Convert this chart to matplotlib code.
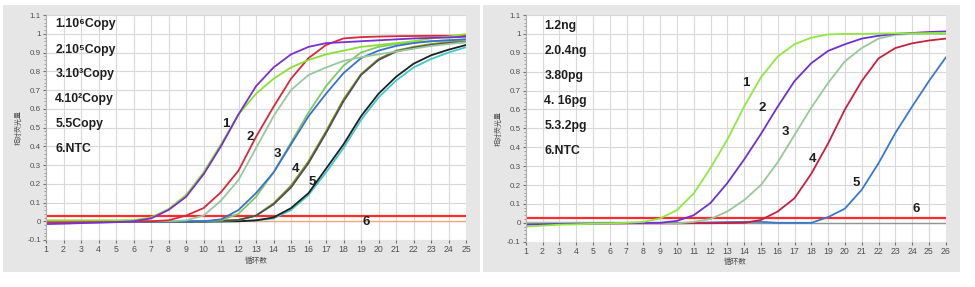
import matplotlib
matplotlib.use("Agg")
import matplotlib.pyplot as plt
from matplotlib.patches import Rectangle
from matplotlib.ticker import MultipleLocator

# ---------------- data: left panel (copies) ----------------
cyc_left = list(range(1, 26))
L1_purple = [-0.015, -0.013, -0.01, -0.008, -0.005, 0.0, 0.015, 0.06, 0.13, 0.25, 0.40, 0.57, 0.72, 0.82, 0.89, 0.93, 0.95, 0.955, 0.96, 0.965, 0.97, 0.975, 0.978, 0.98, 0.984]
L1_lime = [0.005, 0.005, 0.005, 0.005, 0.005, 0.006, 0.02, 0.065, 0.14, 0.26, 0.41, 0.57, 0.68, 0.76, 0.82, 0.86, 0.89, 0.91, 0.93, 0.94, 0.95, 0.96, 0.975, 0.985, 0.998]
L2_red = [-0.005, -0.005, -0.004, -0.003, -0.002, -0.001, 0.0, 0.005, 0.03, 0.07, 0.155, 0.27, 0.45, 0.61, 0.76, 0.87, 0.94, 0.975, 0.982, 0.985, 0.987, 0.988, 0.989, 0.989, 0.99]
L2_lgreen = [0.0, 0.0, 0.0, 0.0, 0.0, 0.0, 0.0, 0.0, 0.005, 0.03, 0.11, 0.22, 0.39, 0.56, 0.70, 0.78, 0.82, 0.855, 0.875, 0.89, 0.905, 0.92, 0.935, 0.945, 0.955]
L3_blue = [-0.003, -0.003, -0.003, -0.003, -0.003, -0.003, -0.002, -0.002, -0.001, 0.0, 0.01, 0.06, 0.15, 0.26, 0.41, 0.56, 0.68, 0.79, 0.87, 0.91, 0.935, 0.95, 0.96, 0.965, 0.97]
L3_green = [0.0, 0.0, 0.0, 0.0, 0.0, 0.0, 0.0, 0.0, 0.0, 0.0, 0.005, 0.04, 0.13, 0.26, 0.42, 0.58, 0.72, 0.83, 0.90, 0.93, 0.945, 0.955, 0.96, 0.965, 0.97]
L4_dark = [-0.003, -0.003, -0.003, -0.003, -0.003, -0.003, -0.003, -0.002, -0.002, 0.0, 0.003, 0.007, 0.03, 0.09, 0.18, 0.31, 0.47, 0.64, 0.78, 0.86, 0.905, 0.925, 0.94, 0.95, 0.955]
L4_olive = [-0.002, -0.002, -0.002, -0.002, -0.002, -0.002, -0.002, -0.002, -0.001, 0.0, 0.002, 0.006, 0.03, 0.095, 0.19, 0.32, 0.48, 0.65, 0.785, 0.865, 0.91, 0.93, 0.945, 0.955, 0.96]
L5_black = [-0.004, -0.004, -0.004, -0.004, -0.004, -0.004, -0.003, -0.003, -0.003, -0.002, -0.001, 0.0, 0.005, 0.02, 0.07, 0.15, 0.28, 0.41, 0.56, 0.68, 0.77, 0.84, 0.885, 0.915, 0.94]
L5_cyan = [-0.004, -0.004, -0.004, -0.004, -0.004, -0.004, -0.004, -0.003, -0.003, -0.002, -0.001, 0.0, 0.004, 0.015, 0.06, 0.14, 0.26, 0.39, 0.54, 0.66, 0.75, 0.82, 0.865, 0.90, 0.928]
L6_ntc = [0.0] * 25
thr_left = 0.028

legend_left = ["1.10⁶Copy", "2.10⁵Copy", "3.10³Copy", "4.10²Copy", "5.5Copy", "6.NTC"]
labels_left = ["1", "2", "3", "4", "5", "6"]
labx_left = [11.25, 12.65, 14.2, 15.27, 16.2, 19.3]
laby_left = [0.52, 0.45, 0.36, 0.28, 0.21, -0.005]

# ---------------- data: right panel (mass) ----------------
cyc_right = list(range(1, 27))
R1_lime = [-0.02, -0.015, -0.01, -0.008, -0.005, -0.003, 0.0, 0.005, 0.023, 0.067, 0.155, 0.29, 0.44, 0.615, 0.77, 0.88, 0.945, 0.98, 0.997, 1.0, 1.0, 1.002, 1.003, 1.003, 1.004, 1.005]
R2_purple = [-0.01, -0.008, -0.006, -0.005, -0.004, -0.003, -0.002, -0.001, 0.0, 0.01, 0.04, 0.105, 0.21, 0.335, 0.47, 0.615, 0.75, 0.845, 0.91, 0.945, 0.975, 0.99, 1.0, 1.005, 1.01, 1.013]
R3_lgreen = [0.0, 0.0, 0.0, 0.0, 0.0, 0.0, 0.0, 0.0, 0.0, -0.003, 0.005, 0.02, 0.06, 0.12, 0.20, 0.32, 0.465, 0.61, 0.74, 0.855, 0.925, 0.975, 0.995, 1.0, 1.0, 1.0]
R4_crimson = [-0.003, -0.003, -0.003, -0.003, -0.003, -0.003, -0.003, -0.003, -0.003, -0.003, -0.002, -0.002, -0.001, 0.0, 0.015, 0.06, 0.13, 0.26, 0.42, 0.60, 0.75, 0.87, 0.925, 0.95, 0.965, 0.975]
R5_blue = [0.0, 0.0, 0.0, 0.0, 0.0, 0.0, 0.0, 0.0, 0.0, 0.0, 0.0, 0.002, 0.004, 0.005, 0.005, 0.0, 0.0, 0.0, 0.03, 0.075, 0.175, 0.315, 0.475, 0.615, 0.75, 0.875]
R6_ntc = [0.0] * 26
thr_right = 0.028

legend_right = ["1.2ng", "2.0.4ng", "3.80pg", "4. 16pg", "5.3.2pg", "6.NTC"]
labels_right = ["1", "2", "3", "4", "5", "6"]
labx_right = [14.1, 15.05, 16.45, 18.1, 20.7, 24.25]
laby_right = [0.74, 0.61, 0.48, 0.34, 0.21, 0.075]

yticks = [-0.1, 0, 0.1, 0.2, 0.3, 0.4, 0.5, 0.6, 0.7, 0.8, 0.9, 1, 1.1]
ytick_labels = ["-0.1", "0", "0.1", "0.2", "0.3", "0.4", "0.5", "0.6", "0.7", "0.8", "0.9", "1", "1.1"]

FONT = ["Liberation Sans", "DejaVu Sans"]
CJK = ["Noto Sans CJK SC", "DejaVu Sans"]

fig = plt.figure(figsize=(9.75, 2.87), dpi=100)
fig.patch.set_facecolor("white")

# gray panel backgrounds
for x0, x1 in [(3, 480), (483, 960)]:
    fig.patches.append(Rectangle((x0 / 975, 1 - 272 / 287), (x1 - x0) / 975, (272 - 5) / 287,
                                 transform=fig.transFigure, facecolor="#e6e6e6",
                                 edgecolor="none", zorder=-10))

axL = fig.add_axes([46 / 975, 1 - 240 / 287, (466 - 46) / 975, (240 - 15) / 287])
axR = fig.add_axes([525.7 / 975, 1 - 241.7 / 287, (945.7 - 525.7) / 975, (241.7 - 15) / 287])


def style(ax, xmax):
    ax.set_facecolor("white")
    ax.set_xlim(1, xmax)
    ax.set_ylim(-0.1, 1.1)
    ax.set_xticks(list(range(1, xmax + 1)))
    ax.set_xticklabels([str(i) for i in range(1, xmax + 1)], fontsize=6.3, color="#505050", family=FONT)
    ax.set_yticks(yticks)
    ax.set_yticklabels(ytick_labels, fontsize=5.8, color="#505050", family=FONT)
    ax.yaxis.set_minor_locator(MultipleLocator(0.02))
    ax.tick_params(axis="both", which="major", length=2, width=0.8, color="#707070", pad=1.5)
    ax.tick_params(axis="y", which="minor", length=1.2, width=0.6, color="#909090")
    ax.grid(True, which="major", color="#d8d8d8", linewidth=0.8)
    for s in ax.spines.values():
        s.set_visible(False)
    ax.spines["left"].set_visible(True)
    ax.spines["left"].set_color("#b0b0b0")
    ax.spines["left"].set_linestyle((0, (1, 1)))
    ax.spines["left"].set_linewidth(0.8)
    ax.set_xlabel("循环数", fontsize=5.5, color="#505050", family=CJK, labelpad=2)
    ax.set_ylabel("相对荧光量", fontsize=5, color="#505050", family=CJK, labelpad=3)
    ax.set_axisbelow(True)


style(axL, 25)
style(axR, 26)

lw = 1.3
# left curves
axL.plot(cyc_left, L6_ntc, color="#f0a878", lw=1.0)
axL.axhline(thr_left, color="#ff2a2a", lw=1.6)
axL.plot(cyc_left, L5_cyan, color="#40c8d0", lw=lw)
axL.plot(cyc_left, L5_black, color="#202020", lw=lw)
axL.plot(cyc_left, L4_olive, color="#8a9a28", lw=lw)
axL.plot(cyc_left, L4_dark, color="#505050", lw=lw)
axL.plot(cyc_left, L3_green, color="#80c860", lw=lw)
axL.plot(cyc_left, L3_blue, color="#3a70d0", lw=lw)
axL.plot(cyc_left, L2_lgreen, color="#98c8a0", lw=lw)
axL.plot(cyc_left, L2_red, color="#d8283c", lw=lw)
axL.plot(cyc_left, L1_lime, color="#88e030", lw=lw)
axL.plot(cyc_left, L1_purple, color="#7a30d0", lw=lw)

# right curves
axR.plot(cyc_right, R6_ntc, color="#8a9a90", lw=1.0)
axR.axhline(thr_right, color="#ff2a2a", lw=1.6)
axR.plot(cyc_right, R5_blue, color="#3a78d0", lw=lw)
axR.plot(cyc_right, R4_crimson, color="#c82040", lw=lw)
axR.plot(cyc_right, R3_lgreen, color="#98c898", lw=lw)
axR.plot(cyc_right, R2_purple, color="#7030d0", lw=lw)
axR.plot(cyc_right, R1_lime, color="#90e840", lw=lw)

# legend texts
ys_left = [1.053, 0.916, 0.783, 0.650, 0.517, 0.387]
for t, y in zip(legend_left, ys_left):
    axL.text(1.53, y, t, fontsize=8.8, fontweight="bold", color="#1e1e1e", family=FONT, va="center", ha="left")
ys_right = [1.044, 0.912, 0.779, 0.646, 0.513, 0.382]
for t, y in zip(legend_right, ys_right):
    axR.text(2.11, y, t, fontsize=8.8, fontweight="bold", color="#1e1e1e", family=FONT, va="center", ha="left")

for t, x, y in zip(labels_left, labx_left, laby_left):
    axL.text(x, y, t, fontsize=9.5, fontweight="bold", color="#1e1e1e", family=FONT, ha="center", va="center")
for t, x, y in zip(labels_right, labx_right, laby_right):
    axR.text(x, y, t, fontsize=9.5, fontweight="bold", color="#1e1e1e", family=FONT, ha="center", va="center")

fig.savefig("out.png", dpi=100)
